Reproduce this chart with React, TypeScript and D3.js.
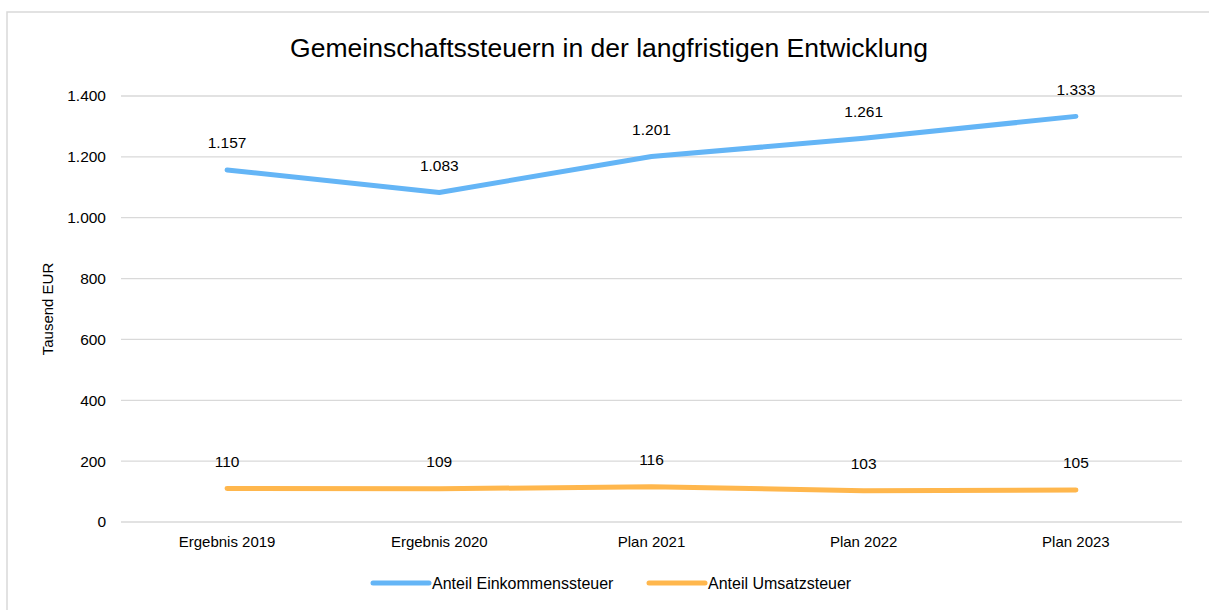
import React, { useRef, useEffect } from 'react'
import * as d3 from 'd3'

const categories = ['Ergebnis 2019', 'Ergebnis 2020', 'Plan 2021', 'Plan 2022', 'Plan 2023']
const einkommen = [1157, 1083, 1201, 1261, 1333]
const umsatz = [110, 109, 116, 103, 105]
const yTicks = [0, 200, 400, 600, 800, 1000, 1200, 1400]

const series = [
    { name: 'Anteil Einkommenssteuer', values: einkommen, color: '#64B5F6' },
    { name: 'Anteil Umsatzsteuer', values: umsatz, color: '#FFB74D' },
]

const fmt = (v: number) => d3.format(',')(v).replace(/,/g, '.')

export default function App() {
    const ref = useRef<SVGSVGElement>(null)
    const w = 1209
    const h = 610

    useEffect(() => {
        const svg = d3.select(ref.current)
        svg.selectAll('*').remove()
        const font = '"Liberation Sans", Arial, sans-serif'

        // frame
        svg.append('rect')
            .attr('x', 7).attr('y', 12)
            .attr('width', 1240).attr('height', 640)
            .attr('fill', '#fff')
            .attr('stroke', '#d9d9d9')
            .attr('stroke-width', 1.5)

        const x = d3.scaleBand().domain(categories).range([121, 1182])
        const y = d3.scaleLinear().domain([0, 1400]).range([522, 96])

        // gridlines
        svg.append('g').selectAll('line')
            .data(yTicks)
            .enter()
            .append('line')
            .attr('x1', 121).attr('x2', 1182)
            .attr('y1', d => y(d)).attr('y2', d => y(d))
            .attr('stroke', '#d9d9d9')
            .attr('stroke-width', 1.3)

        // y tick labels
        svg.append('g').selectAll('text')
            .data(yTicks)
            .enter()
            .append('text')
            .attr('x', 106)
            .attr('y', d => y(d))
            .attr('dy', '0.35em')
            .attr('text-anchor', 'end')
            .style('font-family', font)
            .style('font-size', '15.5px')
            .attr('fill', '#000')
            .text(d => fmt(d))

        // x labels
        svg.append('g').selectAll('text')
            .data(categories)
            .enter()
            .append('text')
            .attr('x', d => x(d)! + x.bandwidth() / 2)
            .attr('y', 542)
            .attr('dy', '0.35em')
            .attr('text-anchor', 'middle')
            .style('font-family', font)
            .style('font-size', '15px')
            .text(d => d)

        const line = d3.line<number>()
            .x((d, i) => x(categories[i])! + x.bandwidth() / 2)
            .y(d => y(d))

        series.forEach(s => {
            svg.append('path')
                .datum(s.values)
                .attr('d', line)
                .attr('fill', 'none')
                .attr('stroke', s.color)
                .attr('stroke-width', 5)
                .attr('stroke-linecap', 'round')
                .attr('stroke-linejoin', 'round')

            svg.append('g').selectAll('text')
                .data(s.values)
                .enter()
                .append('text')
                .attr('x', (d, i) => x(categories[i])! + x.bandwidth() / 2)
                .attr('y', d => y(d) - 27)
                .attr('dy', '0.35em')
                .attr('text-anchor', 'middle')
                .style('font-family', font)
                .style('font-size', '15.5px')
                .text(d => fmt(d))
        })

        // title
        svg.append('text')
            .attr('x', 609)
            .attr('y', 57)
            .attr('text-anchor', 'middle')
            .style('font-family', font)
            .style('font-size', '26.5px')
            .text('Gemeinschaftssteuern in der langfristigen Entwicklung')

        // y axis title
        svg.append('text')
            .attr('transform', 'translate(48,309) rotate(-90)')
            .attr('dy', '0.35em')
            .attr('text-anchor', 'middle')
            .style('font-family', font)
            .style('font-size', '15px')
            .text('Tausend EUR')

        // legend
        const legendX = [373, 649]
        series.forEach((s, i) => {
            const g = svg.append('g').attr('transform', `translate(${legendX[i]},583)`)
            g.append('line')
                .attr('x1', 0).attr('x2', 56)
                .attr('stroke', s.color)
                .attr('stroke-width', 5)
                .attr('stroke-linecap', 'round')
            g.append('text')
                .attr('x', 59)
                .attr('dy', '0.35em')
                .style('font-family', font)
                .style('font-size', '16px')
                .text(s.name)
        })
    }, [])

    return (
        <div style={{ position: 'absolute', left: 0, top: 0 }}>
            <svg ref={ref} width={w} height={h} style={{ display: 'block' }}></svg>
        </div>
    )
}
